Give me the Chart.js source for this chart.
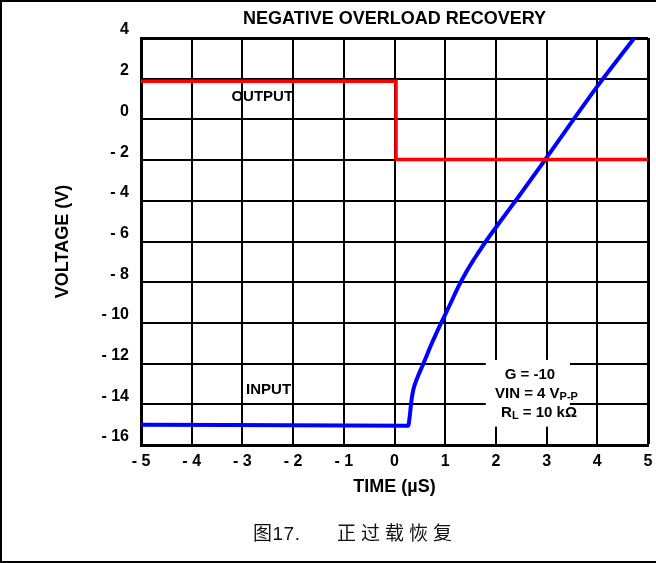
<!DOCTYPE html>
<html>
<head>
<meta charset="utf-8">
<script src="https://cdn.jsdelivr.net/npm/chart.js@4/dist/chart.umd.min.js"></script>
<style>
  html, body { margin: 0; padding: 0; background: #fff; }
  #wrap { position: relative; width: 656px; height: 563px; overflow: hidden; }
  #caption { position: absolute; top: 518px; left: 0; width: 656px; height: 28px;
    font: 19px "Liberation Sans", "Noto Sans CJK SC", sans-serif; color: #111; }
  #caption span { position: absolute; top: 0; white-space: nowrap; }
  #caption .fig { left: 253px; letter-spacing: 0.5px; }
  #caption .name { left: 337px; letter-spacing: 5px; }
</style>
</head>
<body>
<div id="wrap">
  <canvas id="chart" width="656" height="563"></canvas>
  <div id="caption"><span class="fig">图17.</span><span class="name">正过载恢复</span></div>
</div>
<script>
// --- Data ---
const outputTime = [-5, 0.03, 0.03, 5];
const outputVolt = [1.88, 1.88, -1.97, -1.97];

const inputTime = [-5, 0.27, 0.30, 0.33, 0.37, 0.45, 0.57, 0.73, 0.92, 1.09, 1.18, 1.28, 1.41, 1.54, 1.67, 1.80, 2.10, 2.40, 2.96, 4.00, 4.73];
const inputVolt = [-15, -15.05, -14.6, -13.9, -13.3, -12.7, -12.0, -11.04, -10.0, -9.12, -8.64, -8.12, -7.52, -6.98, -6.49, -6.0, -4.97, -3.96, -2.02, 1.62, 4.0];

const xTicks = [-5, -4, -3, -2, -1, 0, 1, 2, 3, 4, 5];
const yTicks = [-16, -14, -12, -10, -8, -6, -4, -2, 0, 2, 4];

const chartTitle = 'NEGATIVE OVERLOAD RECOVERY';
const xTitle = 'TIME (µS)';
const yTitle = 'VOLTAGE (V)';

// trace labels: [text, time, volt] (right aligned)
const traceLabels = [['OUTPUT', -2.0, 1.12], ['INPUT', -2.04, -13.3]];

// test conditions, each line is runs of [text, isSubscript]
const condLines = [
  { t: 2.67, v: -12.5, runs: [['G = -10', false]] },
  { t: 2.8, v: -13.45, runs: [['VIN = 4 V', false], ['P-P', true]] },
  { t: 2.85, v: -14.38, runs: [['R', false], ['L', true], [' = 10 kΩ', false]] }
];
const condBoxTime = [1.80, 3.46];
const condBoxVolt = [-11.82, -15.1];

const FONT = '"Liberation Sans", Arial, sans-serif';

const fmt = v => v < 0 ? '- ' + Math.abs(v) : String(v);

// --- Annotation plugin ---
const notes = {
  id: 'notes',
  beforeDatasetsDraw(chart) {
    const { ctx, scales: { x, y } } = chart;
    ctx.save();
    ctx.fillStyle = '#fff';
    const x0 = x.getPixelForValue(condBoxTime[0]), x1 = x.getPixelForValue(condBoxTime[1]);
    const y0 = y.getPixelForValue(condBoxVolt[0]), y1 = y.getPixelForValue(condBoxVolt[1]);
    ctx.fillRect(x0, y0, x1 - x0, y1 - y0);
    ctx.restore();
  },
  afterDatasetsDraw(chart) {
    const { ctx, scales: { x, y } } = chart;
    ctx.save();
    ctx.fillStyle = '#000';
    ctx.textBaseline = 'middle';
    ctx.font = 'bold 15px ' + FONT;
    ctx.textAlign = 'right';
    traceLabels.forEach(([txt, t, v]) => {
      ctx.fillText(txt, x.getPixelForValue(t), y.getPixelForValue(v));
    });

    ctx.textAlign = 'left';
    ctx.textBaseline = 'alphabetic';
    const big = 'bold 15px ' + FONT, small = 'bold 11px ' + FONT;
    condLines.forEach(line => {
      let w = 0;
      line.runs.forEach(([txt, sub]) => { ctx.font = sub ? small : big; w += ctx.measureText(txt).width; });
      let px = x.getPixelForValue(line.t) - w / 2;
      const base = y.getPixelForValue(line.v) + 5;
      line.runs.forEach(([txt, sub]) => {
        ctx.font = sub ? small : big;
        ctx.fillText(txt, px, base + (sub ? 1.5 : 0));
        px += ctx.measureText(txt).width;
      });
    });
    ctx.restore();
  },
  afterDraw(chart) {
    // frame round the figure (top, left, bottom)
    const { ctx, width, height } = chart;
    ctx.save();
    ctx.fillStyle = '#000';
    ctx.fillRect(0, 0, width, 2);
    ctx.fillRect(0, 0, 2, height);
    ctx.fillRect(0, height - 2, width, 2);
    ctx.restore();
  }
};

const ctx = document.getElementById('chart').getContext('2d');
new Chart(ctx, {
  type: 'line',
  data: {
    datasets: [
      {
        label: 'OUTPUT',
        data: outputTime.map((t, i) => ({ x: t, y: outputVolt[i] })),
        borderColor: '#ff0000',
        borderWidth: 3.5,
        pointRadius: 0,
        tension: 0
      },
      {
        label: 'INPUT',
        data: inputTime.map((t, i) => ({ x: t, y: inputVolt[i] })),
        borderColor: '#0000ff',
        borderWidth: 4,
        pointRadius: 0,
        cubicInterpolationMode: 'monotone'
      }
    ]
  },
  options: {
    responsive: false,
    animation: false,
    events: [],
    layout: { padding: { left: 0, right: 8, top: 0, bottom: 58 } },
    plugins: {
      legend: { display: false },
      tooltip: { enabled: false },
      title: {
        display: true,
        text: chartTitle,
        fullSize: false,
        color: '#000',
        font: { family: FONT, size: 18, weight: 'bold', lineHeight: 1.2 },
        padding: { top: 8, bottom: 8.4 }
      }
    },
    scales: {
      x: {
        type: 'linear',
        min: -5,
        max: 5,
        afterBuildTicks: s => { s.ticks = xTicks.map(v => ({ value: v })); },
        afterFit: s => { s.height = 60; s.paddingLeft = 0; s.paddingRight = 0; },
        ticks: {
          color: '#000',
          padding: 7,
          font: { family: FONT, size: 16, weight: 'bold' },
          callback: fmt
        },
        grid: {
          color: '#000',
          lineWidth: c => (c.tick && c.tick.value === 5 ? 3 : 2),
          drawTicks: false
        },
        border: { display: true, color: '#000', width: 3 },
        title: {
          display: true,
          text: xTitle,
          color: '#000',
          font: { family: FONT, size: 18, weight: 'bold', lineHeight: 1.2 },
          padding: { top: 0, bottom: 7 }
        }
      },
      y: {
        type: 'linear',
        min: -16,
        max: 4,
        afterBuildTicks: s => { s.ticks = yTicks.map(v => ({ value: v })); },
        afterFit: s => { s.width = 141; },
        ticks: {
          color: '#000',
          padding: 12,
          labelOffset: -8,
          font: { family: FONT, size: 16, weight: 'bold' },
          callback: fmt
        },
        grid: {
          color: '#000',
          lineWidth: c => (c.tick && c.tick.value === 4 ? 3 : 2),
          drawTicks: false
        },
        border: { display: true, color: '#000', width: 3 },
        title: {
          display: true,
          text: yTitle,
          color: '#000',
          font: { family: FONT, size: 18, weight: 'bold', lineHeight: 1.2 },
          padding: { top: 52, bottom: 0 }
        }
      }
    }
  },
  plugins: [notes]
});
</script>
</body>
</html>
